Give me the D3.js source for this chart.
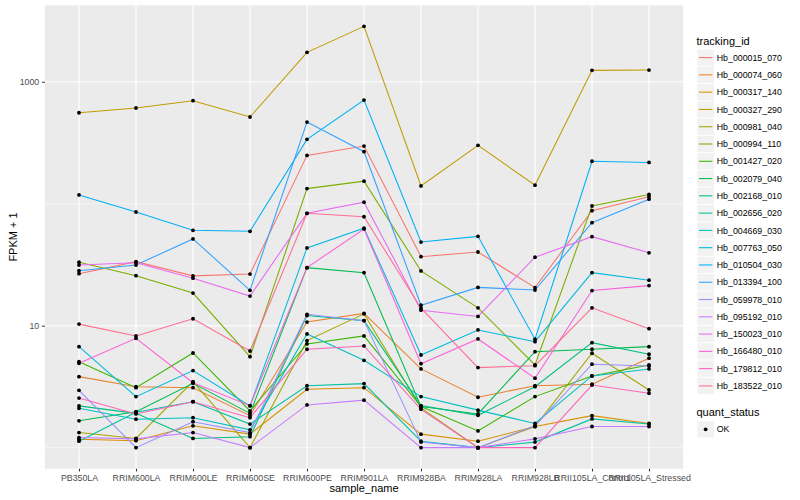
<!DOCTYPE html>
<html>
<head>
<meta charset="utf-8">
<script src="https://cdn.jsdelivr.net/npm/d3@7"></script>
<style>
  body { margin: 0; background: #fff; }
  text { font-family: "Liberation Sans", Arial, Helvetica, sans-serif; }
</style>
</head>
<body>
<div id="chart"></div>
<script>
// x categories
const samples = ["PB350LA", "RRIM600LA", "RRIM600LE", "RRIM600SE", "RRIM600PE", "RRIM901LA",
  "RRIM928BA", "RRIM928LA", "RRIM928LB", "RRII105LA_Control", "RRII105LA_Stressed"];

// FPKM + 1 per gene, one value per sample
const hb_000015_070 = [26.7, 33.5, 25.6, 26.5, 249, 297, 36.8, 40.2, 20.5, 87.6, 114];
const hb_000074_060 = [3.82, 3.16, 3.10, 1.83, 10.7, 12.6, 4.42, 2.59, 3.22, 3.31, 5.41];
const hb_000317_140 = [1.17, 1.14, 1.51, 1.29, 3.01, 3.10, 1.29, 1.13, 1.49, 1.83, 1.58];
const hb_000327_290 = [557, 609, 699, 514, 1742, 2845, 140, 301, 142, 1240, 1247];
const hb_000981_040 = [1.33, 1.19, 3.48, 1.00, 7.54, 12.5, 2.12, 1.00, 1.49, 5.94, 2.97];
const hb_000994_110 = [33.1, 25.7, 18.5, 5.57, 133, 153, 28.1, 14.0, 4.76, 95.8, 119];
const hb_001427_020 = [5.07, 3.10, 5.97, 2.00, 7.08, 8.24, 2.17, 1.37, 2.62, 3.87, 4.76];
const hb_002079_040 = [1.66, 1.97, 3.37, 1.91, 29.9, 27.2, 2.17, 1.89, 6.12, 6.41, 6.73];
const hb_002168_010 = [2.20, 1.91, 1.19, 1.23, 12.1, 11.0, 2.21, 1.84, 3.16, 7.26, 5.83];
const hb_002656_020 = [1.13, 1.95, 2.38, 1.56, 3.22, 3.35, 1.13, 1.00, 1.11, 1.72, 1.56];
const hb_004669_030 = [2.10, 1.71, 1.76, 1.40, 8.55, 5.20, 2.62, 2.03, 1.58, 3.87, 4.42];
const hb_007763_050 = [6.73, 2.62, 4.28, 2.20, 43.4, 62.9, 5.75, 9.22, 7.39, 27.2, 23.6];
const hb_010504_030 = [118, 85.5, 60.5, 59.4, 337, 707, 48.5, 54.0, 7.74, 223, 218];
const hb_013394_100 = [28.2, 31.4, 51.4, 19.5, 467, 267, 14.7, 20.6, 19.6, 69.9, 109];
const hb_059978_010 = [2.95, 1.00, 1.63, 1.33, 12.4, 11.0, 1.11, 1.00, 1.51, 4.83, 4.67];
const hb_095192_010 = [1.21, 1.18, 1.33, 1.00, 2.24, 2.45, 1.00, 1.00, 1.18, 1.49, 1.49];
const hb_150023_010 = [31.4, 32.8, 24.5, 17.5, 83.4, 103, 13.4, 11.9, 36.4, 53.7, 39.6];
const hb_166480_010 = [4.92, 7.88, 3.41, 2.21, 29.9, 62.1, 4.88, 7.78, 3.71, 19.4, 21.3];
const hb_179812_010 = [2.55, 1.89, 2.38, 1.76, 6.41, 6.82, 2.06, 1.00, 1.00, 3.26, 2.79];
const hb_183522_010 = [10.3, 8.24, 11.4, 6.20, 83.4, 78.2, 13.9, 4.53, 4.70, 14.0, 9.45];

const trackingIds = ["Hb_000015_070", "Hb_000074_060", "Hb_000317_140", "Hb_000327_290", "Hb_000981_040",
  "Hb_000994_110", "Hb_001427_020", "Hb_002079_040", "Hb_002168_010", "Hb_002656_020",
  "Hb_004669_030", "Hb_007763_050", "Hb_010504_030", "Hb_013394_100", "Hb_059978_010",
  "Hb_095192_010", "Hb_150023_010", "Hb_166480_010", "Hb_179812_010", "Hb_183522_010"];
const seriesValues = [hb_000015_070, hb_000074_060, hb_000317_140, hb_000327_290, hb_000981_040,
  hb_000994_110, hb_001427_020, hb_002079_040, hb_002168_010, hb_002656_020,
  hb_004669_030, hb_007763_050, hb_010504_030, hb_013394_100, hb_059978_010,
  hb_095192_010, hb_150023_010, hb_166480_010, hb_179812_010, hb_183522_010];

const yTicks = [10, 1000];
const yMinor = [1, 100, 10000];
const quantLevels = ["OK"];

// ggplot default hue palette for 20 levels
const palette = ["#F8766D", "#EA8331", "#D89000", "#C09B00", "#A3A500", "#7CAE00", "#39B600", "#00BB4E",
  "#00BF7D", "#00C1A3", "#00BFC4", "#00BAE0", "#00B0F6", "#35A2FF", "#9590FF", "#C77CFF",
  "#E76BF3", "#FA62DB", "#FF62BC", "#FF6C91"];

const series = trackingIds.map((id, i) => ({
  id: id,
  points: samples.map((s, j) => ({ sample: s, value: seriesValues[i][j] }))
}));

const W = 800, H = 500;
const panel = { left: 44.8, right: 683.2, top: 5.3, bottom: 468.7 };

const svg = d3.select("#chart").append("svg")
  .attr("width", W)
  .attr("height", H);

const x = d3.scalePoint().domain(samples).range([panel.left, panel.right]).padding(0.6);

// log scale with ggplot's 5% expansion in log space
const allVals = seriesValues.flat();
const lo = Math.log10(d3.min(allVals)), hi = Math.log10(d3.max(allVals));
const ex = (hi - lo) * 0.05;
const y = d3.scaleLog().domain([Math.pow(10, lo - ex), Math.pow(10, hi + ex)])
  .range([panel.bottom, panel.top]);

const color = d3.scaleOrdinal().domain(trackingIds).range(palette);

// panel background
svg.append("rect")
  .attr("x", panel.left).attr("y", panel.top)
  .attr("width", panel.right - panel.left).attr("height", panel.bottom - panel.top)
  .attr("fill", "#EBEBEB");

const grid = svg.append("g");
grid.selectAll(".minor")
  .data(yMinor.filter(v => y(v) >= panel.top && y(v) <= panel.bottom))
  .enter().append("line")
  .attr("x1", panel.left).attr("x2", panel.right)
  .attr("y1", d => y(d)).attr("y2", d => y(d))
  .attr("stroke", "#fff").attr("stroke-width", 0.53);
grid.selectAll(".major")
  .data(yTicks)
  .enter().append("line")
  .attr("x1", panel.left).attr("x2", panel.right)
  .attr("y1", d => y(d)).attr("y2", d => y(d))
  .attr("stroke", "#fff").attr("stroke-width", 1.07);
grid.selectAll(".vert")
  .data(samples)
  .enter().append("line")
  .attr("x1", d => x(d)).attr("x2", d => x(d))
  .attr("y1", panel.top).attr("y2", panel.bottom)
  .attr("stroke", "#fff").attr("stroke-width", 1.07);

// lines
const line = d3.line().x(d => x(d.sample)).y(d => y(d.value));
svg.append("g").selectAll("path")
  .data(series)
  .enter().append("path")
  .attr("d", d => line(d.points))
  .attr("fill", "none")
  .attr("stroke", d => color(d.id))
  .attr("stroke-width", 1.07);

// points
svg.append("g").selectAll("circle")
  .data(series.flatMap(s => s.points))
  .enter().append("circle")
  .attr("cx", d => x(d.sample))
  .attr("cy", d => y(d.value))
  .attr("r", 1.9)
  .attr("fill", "#000");

// axes
const xAxis = d3.axisBottom(x).tickSize(2.74).tickPadding(3.3);
const gx = svg.append("g")
  .attr("transform", `translate(0, ${panel.bottom})`)
  .call(xAxis);
gx.select(".domain").remove();
gx.selectAll("line").attr("stroke", "#333333").attr("stroke-width", 1.07);
gx.selectAll("text").attr("fill", "#4D4D4D").style("font-size", "8.8px");

const yAxis = d3.axisLeft(y).tickValues(yTicks).tickFormat(d3.format("d")).tickSize(2.74).tickPadding(2.8);
const gy = svg.append("g")
  .attr("transform", `translate(${panel.left}, 0)`)
  .call(yAxis);
gy.select(".domain").remove();
gy.selectAll("line").attr("stroke", "#333333").attr("stroke-width", 1.07);
gy.selectAll("text").attr("fill", "#4D4D4D").style("font-size", "8.8px");

svg.append("text")
  .attr("x", (panel.left + panel.right) / 2)
  .attr("y", 492)
  .attr("text-anchor", "middle")
  .style("font-size", "11px")
  .text("sample_name");

svg.append("text")
  .attr("transform", `translate(16.5, ${(panel.top + panel.bottom) / 2}) rotate(-90)`)
  .attr("text-anchor", "middle")
  .style("font-size", "11px")
  .text("FPKM + 1");

// legend: tracking_id
const legend = svg.append("g");
const keyX = 697.3, keySize = 17.28, key0 = 57.6;
legend.append("text")
  .attr("x", 696.5).attr("y", 44.5)
  .style("font-size", "11px")
  .text("tracking_id");

const keys = legend.selectAll(".key")
  .data(trackingIds)
  .enter().append("g")
  .attr("transform", (d, i) => `translate(${keyX}, ${key0 + i * keySize})`);
keys.append("rect")
  .attr("x", 0).attr("y", -keySize / 2 + 0.5)
  .attr("width", keySize - 0.5).attr("height", keySize - 1)
  .attr("fill", "#F2F2F2");
keys.append("line")
  .attr("x1", 1.7).attr("x2", keySize - 2.2)
  .attr("y1", 0).attr("y2", 0)
  .attr("stroke", d => color(d))
  .attr("stroke-width", 1.07);
keys.append("text")
  .attr("x", keySize + 2.2).attr("y", 3.1)
  .style("font-size", "8.8px")
  .attr("fill", "#000")
  .text(d => d);

// legend: quant_status
legend.append("text")
  .attr("x", 696.5).attr("y", 416.3)
  .style("font-size", "11px")
  .text("quant_status");
const qkeys = legend.selectAll(".qkey")
  .data(quantLevels)
  .enter().append("g")
  .attr("transform", (d, i) => `translate(${keyX}, ${429.3 + i * keySize})`);
qkeys.append("rect")
  .attr("x", 0).attr("y", -keySize / 2 + 0.5)
  .attr("width", keySize - 0.5).attr("height", keySize - 1)
  .attr("fill", "#F2F2F2");
qkeys.append("circle")
  .attr("cx", keySize / 2 - 0.3).attr("cy", 0)
  .attr("r", 1.9)
  .attr("fill", "#000");
qkeys.append("text")
  .attr("x", keySize + 2.2).attr("y", 3.1)
  .style("font-size", "8.8px")
  .text(d => d);
</script>
</body>
</html>
